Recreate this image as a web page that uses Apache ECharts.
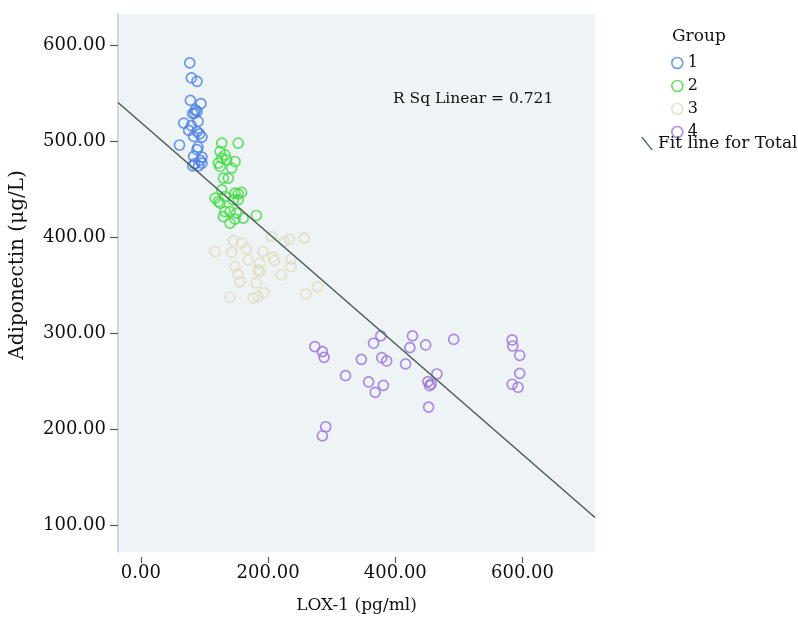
<!DOCTYPE html>
<html>
<head>
<meta charset="utf-8">
<script src="https://cdn.jsdelivr.net/npm/echarts@6/dist/echarts.min.js"></script>
<style>
html,body{margin:0;padding:0;background:#fff;}
#chart{width:798px;height:630px;}
</style>
</head>
<body>
<div id="chart"></div>
<script>
// ---- data (LOX-1 pg/ml, Adiponectin μg/L) ----
var group1 = [[76.8,582],[79.4,566.3],[88.2,562.8],[77.8,542.9],[94.4,539.5],[85.6,533],[84.5,529.7],[88.2,531.4],[81.4,529],[89.8,521],[67.4,519.3],[79.4,516.5],[75.2,511.6],[88.2,510.5],[83,505.3],[96,504.7],[92.3,508],[60.7,496.4],[89.8,494.3],[88.2,491.5],[83,484.5],[96,483.8],[93.4,480.3],[84.5,476.8],[90.7,474.7],[96,477.5],[81.4,474.7]];
var group2 = [[127.2,498.4],[153,498.4],[124.5,489.7],[132.3,486.2],[134.9,481],[127.2,482.8],[147.9,479.2],[121.8,477.5],[124.5,474],[142.7,472.3],[129.7,461.9],[137.5,461.9],[127.2,449.7],[147.9,446.2],[153,445.5],[158.3,446.9],[116.7,441],[121.8,437.5],[132.3,442.7],[145.2,439.2],[153,439.2],[124.5,435.8],[132.3,427],[140.1,427],[150.5,425.3],[181.6,422.9],[129.7,421.8],[160.8,420.1],[147.9,419.1],[140.1,414.9]];
var group3 = [[205,400.9],[233.5,398.2],[256.8,399.3],[225.7,395.7],[145.2,396.8],[158.2,394],[116.7,385.3],[142.7,384.6],[166.1,387.8],[191.9,385.3],[207.5,379.4],[210.1,375.9],[236,377.4],[168.6,376.6],[186.8,373.2],[147.9,369.6],[184.2,366.2],[186.8,364.4],[236,369.6],[153,362],[220.5,360.9],[155.6,354],[181.6,352.3],[277.5,348.7],[259.4,341.1],[140.1,337.7],[176.4,336.7],[184.2,338.3],[193.5,342.5]];
var group4 = [[273.5,286.1],[285.3,280.9],[288,275],[321.7,255.9],[346.6,272.9],[365.8,289.7],[377.2,297.3],[378.7,274.6],[386.5,271.2],[358,249.3],[381.3,245.8],[368.4,238.5],[290.6,202.6],[285.3,193.2],[427,297.3],[422.9,285.1],[447.8,287.9],[416.2,268.1],[491.8,293.8],[465.4,257.6],[451.4,249.6],[456.5,247.2],[454,245.4],[452.4,223.1],[583.7,293.1],[584.7,286.8],[595.6,277.1],[595.6,258.3],[583.7,246.9],[593,243.8]];
var groupNames = ['1','2','3','4'];
var xTicks = [0,200,400,600];
var yTicks = [100,200,300,400,500,600];
var fitIntercept = 520;
var fitSlope = -0.577;
var rSqLabel = 'R Sq Linear = 0.721';

// ---- styling ----
var FONT = 'DejaVu Serif';
var colors = ['#4A80E6','#40DC40','#E0DDBA','#9A6EE0'];
var fitColor = '#4A5D58';
var xMin = -36, xMax = 714, yMin = 72, yMax = 633;

var groups = [group1, group2, group3, group4];
var series = groups.map(function(g, i){
  return {
    name: groupNames[i], type: 'scatter', data: g, symbol: 'circle', symbolSize: 10,
    itemStyle: {color: 'rgba(0,0,0,0)', borderColor: colors[i], borderWidth: 1.7},
    silent: true
  };
});
series.push({
  name: 'Fit line for Total', type: 'line', symbol: 'none', silent: true,
  data: [[xMin, fitIntercept + fitSlope*xMin],[xMax, fitIntercept + fitSlope*xMax]],
  lineStyle: {color: fitColor, width: 1.5}, itemStyle: {color: fitColor}
});

var chart = echarts.init(document.getElementById('chart'), null, {renderer: 'canvas'});
chart.setOption({
  animation: false,
  title: {text: 'Group', left: 667, top: 23, textStyle: {fontFamily: FONT, fontSize: 17, fontWeight: 'normal', color: '#111'}},
  grid: {left: 112, right: 203, top: 14, bottom: 78, show: true, backgroundColor: '#EEF3F6', borderWidth: 0},
  xAxis: {
    type: 'value', min: xMin, max: xMax, offset: 5,
    axisLine: {show: false, onZero: false},
    axisTick: {show: true, length: 6, customValues: xTicks, lineStyle: {color: '#555', width: 1.2}},
    axisLabel: {customValues: xTicks, formatter: function(v){return v.toFixed(2);}, margin: 7, fontFamily: FONT, fontSize: 18, color: '#111'},
    splitLine: {show: false},
    name: 'LOX-1 (pg/ml)', nameLocation: 'middle', nameGap: 40,
    nameTextStyle: {fontFamily: FONT, fontSize: 17, color: '#111'}
  },
  yAxis: {
    type: 'value', min: yMin, max: yMax,
    axisLine: {show: true, onZero: false, lineStyle: {color: '#C3CED6', width: 1.5}},
    axisTick: {show: true, length: 8, customValues: yTicks, lineStyle: {color: '#555', width: 1.2}},
    axisLabel: {customValues: yTicks, formatter: function(v){return v.toFixed(2);}, margin: 12, fontFamily: FONT, fontSize: 18, color: '#111'},
    splitLine: {show: false},
    name: 'Adiponectin (μg/L)', nameLocation: 'middle', nameGap: 90,
    nameTextStyle: {fontFamily: FONT, fontSize: 20, color: '#111', padding: [0,0,0,36]}
  },
  legend: [
    {
      orient: 'vertical', left: 666, top: 50, itemWidth: 11, itemHeight: 11, itemGap: 7,
      selectedMode: false,
      data: groupNames.map(function(n, i){
        return {name: n, icon: 'circle', itemStyle: {color: 'rgba(0,0,0,0)', borderColor: colors[i], borderWidth: 1.6}};
      }),
      textStyle: {fontFamily: FONT, fontSize: 16, color: '#111', lineHeight: 14}
    },
    {
      orient: 'vertical', left: 636, top: 130, itemWidth: 12, itemHeight: 13, selectedMode: false,
      data: [{name: 'Fit line for Total', icon: 'path://M0,0 L1.6,0 L12,13 L10.4,13 Z', itemStyle: {color: fitColor}}],
      textStyle: {fontFamily: FONT, fontSize: 17, color: '#111'}
    }
  ],
  graphic: [
    {type: 'text', left: 393, top: 91, silent: true,
     style: {text: rSqLabel, font: '15.5px "DejaVu Serif"', fill: '#111'}}
  ],
  series: series
});
</script>
</body>
</html>
